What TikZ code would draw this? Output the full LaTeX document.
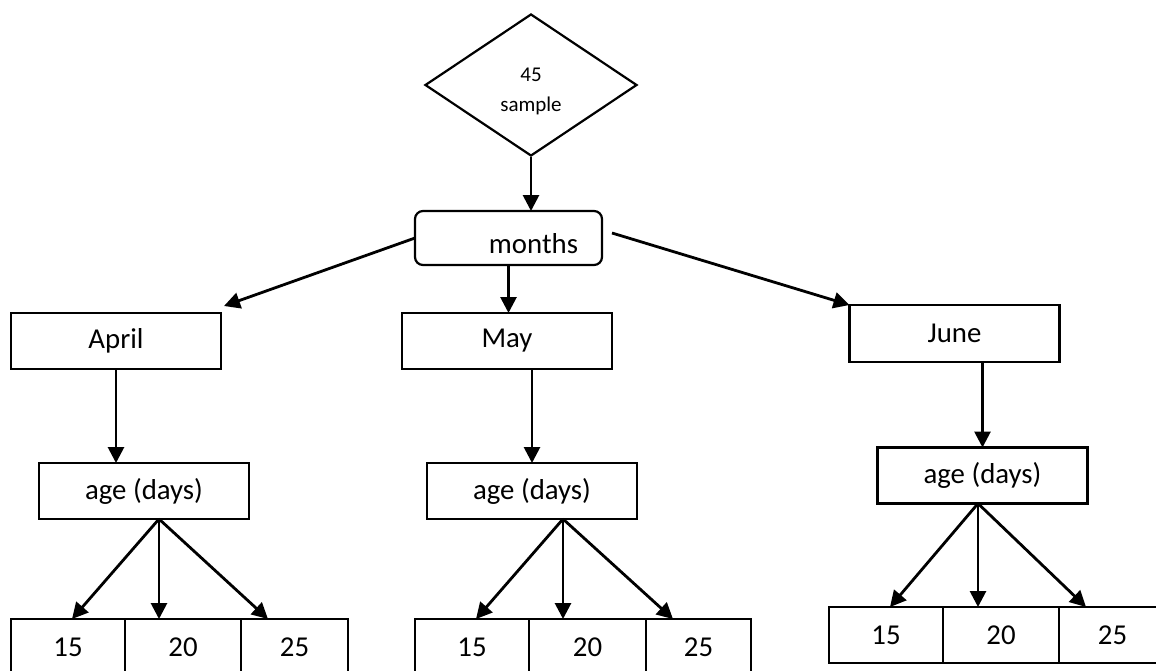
\documentclass[tikz,border=0pt]{standalone}
\usepackage{fontspec}
\setmainfont{Carlito}
\usetikzlibrary{arrows.meta,positioning,shapes.geometric}

\tikzset{
  box/.style={draw, rectangle, line width=1.1pt, inner sep=0pt, outer sep=0pt,
    minimum width=105pt, minimum height=28pt, font=\fontsize{14.4}{17}\selectfont},
  cell/.style={box, minimum height=28pt},
  arr/.style={-{Triangle[length=8pt,width=8pt]}, line width=1.4pt},
}

\begin{document}
\begin{tikzpicture}[x=0.5pt, y=-0.5pt]
  \useasboundingbox (0,0) rectangle (1156,670);
  \clip (0,0) rectangle (1156,670);

  % Sample and months
  \node[draw, diamond, line width=1.1pt, minimum width=106pt, minimum height=71pt,
    inner sep=0pt, align=center, font=\fontsize{10.5}{15}\selectfont] (sample) at (531,85) {};
  \node[font=\fontsize{10.5}{15}\selectfont, align=center, inner sep=0pt] (sampletext) at (531,91) {45\\sample};
  \node[box, rounded corners=4pt, minimum width=93.5pt, minimum height=27pt,
    label={[font=\fontsize{14.4}{17}\selectfont, xshift=12.5pt, yshift=-3pt]center:months}] (months) at (508.5,238) {};

  % Months
  \node[box] (april) at (116,341) {April};
  \node[box] (may) at (507,341) {May};
  \node[box, minimum height=28.5pt] (june) at (954.5,333.5) {June};

  % Age boxes
  \node[box] (aprilage) at (144,491) {age (days)};
  \node[box] (mayage) at (532,491) {age (days)};
  \node[box] (juneage) at (982.5,475.5) {age (days)};

  % Age cells
  \node[cell, minimum width=57pt] (a15) at (68,647) {15};
  \node[cell, minimum width=58pt, right=0pt of a15] (a20) {20};
  \node[cell, minimum width=53.5pt, right=0pt of a20] (a25) {25};
  \node[cell, minimum width=57pt] (m15) at (472,647) {15};
  \node[cell, minimum width=58.5pt, right=0pt of m15] (m20) {20};
  \node[cell, minimum width=52.5pt, right=0pt of m20] (m25) {25};
  \node[cell, minimum width=57pt] (j15) at (886,635) {15};
  \node[cell, minimum width=58pt, right=0pt of j15] (j20) {20};
  \node[cell, minimum width=53.5pt, right=0pt of j20] (j25) {25};

  % Arrows
  \draw[arr] (sample.south) -- (sample.south |- months.north);
  \draw[arr] (months.west) -- ([shift={(3,-7)}]april.north east);
  \draw[arr] (months.south) -- (months.south |- may.north);
  \draw[arr] ([shift={(10,-5)}]months.east) -- (june.north west);
  \draw[arr] (april.south) -- (april.south |- aprilage.north);
  \draw[arr] (may.south -| mayage.north) -- (mayage.north);
  \draw[arr] (june.south -| juneage.north) -- (juneage.north);

  \foreach \g/\c/\dx in {april/a/15, may/m/31, june/j/-4.5} {
    \coordinate (\c o) at ([shift={(\dx,0)}]\g age.south);
    \draw[arr] (\c o) -- ([xshift=2pt]\c15.north);
    \draw[arr] (\c o) -- (\c o |- \c20.north);
    \draw[arr] (\c o) -- ([xshift=13.5pt]\c25.north west);
  }
\end{tikzpicture}
\end{document}
